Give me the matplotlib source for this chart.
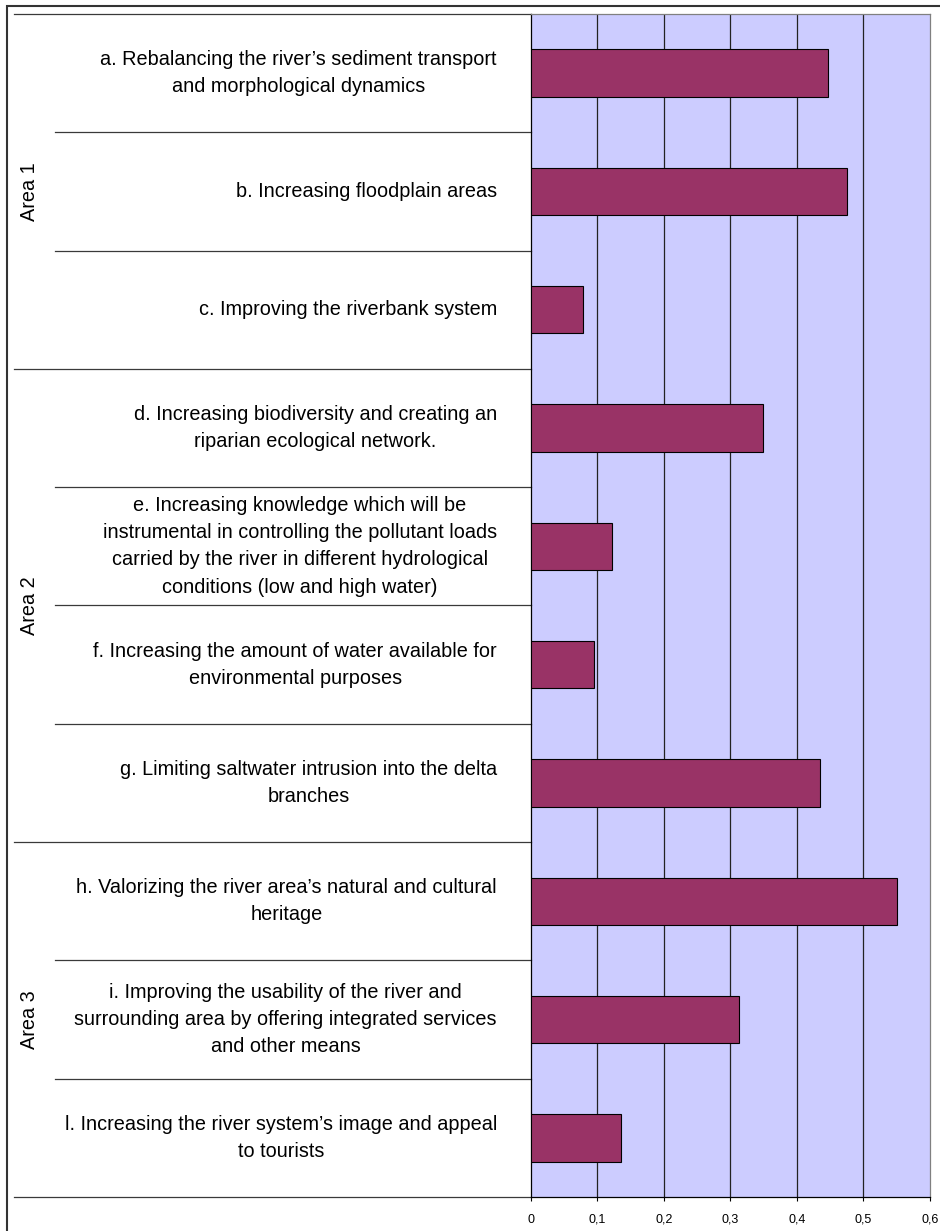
import numpy as np
import matplotlib
matplotlib.use('Agg')
import matplotlib.pyplot as plt
import matplotlib.transforms as mtransforms
from matplotlib.patches import Rectangle

plt.rcParams['font.family'] = ['Liberation Sans', 'DejaVu Sans']

# Chart data
labels = [
    "a. Rebalancing the river\u2019s sediment transport\nand morphological dynamics",
    "b. Increasing floodplain areas",
    "c. Improving the riverbank system",
    "d. Increasing biodiversity and creating an\nriparian ecological network.",
    "e. Increasing knowledge which will be\ninstrumental in controlling the pollutant loads\n"
    "carried by the river in different hydrological\nconditions (low and high water)",
    "f. Increasing the amount of water available for\nenvironmental purposes",
    "g. Limiting saltwater intrusion into the delta\nbranches",
    "h. Valorizing the river area\u2019s natural and cultural\nheritage",
    "i. Improving the usability of the river and\nsurrounding area by offering integrated services\nand other means",
    "l. Increasing the river system\u2019s image and appeal\nto tourists",
]
values = [0.446, 0.475, 0.078, 0.349, 0.122, 0.095, 0.434, 0.551, 0.313, 0.136]
areas = ["Area 1", "Area 2", "Area 3"]
area_sizes = [3, 4, 3]
xticks = [0, 0.1, 0.2, 0.3, 0.4, 0.5, 0.6]
xtick_labels = ["0", "0,1", "0,2", "0,3", "0,4", "0,5", "0,6"]

W, H = 940, 1231
fig = plt.figure(figsize=[W / 100, H / 100], dpi=100)
ax = fig.add_axes([530.7 / W, 1 - 1197 / H, (930 - 530.7) / W, (1197 - 14) / H])

pos = np.arange(len(values))
ax.set_facecolor('#CCCCFF')
ax.barh(pos, values, height=0.4, color='#993366', edgecolor='black', linewidth=0.8, zorder=3)
ax.set_xlim(0, 0.6)
ax.set_ylim(len(values) - 0.5, -0.5)

# Vertical gridlines
for x in xticks[1:-1]:
    ax.axvline(x, color='#222222', linewidth=0.9, zorder=1)

ax.set_xticks(xticks)
ax.set_xticklabels(xtick_labels, fontsize=9)
ax.tick_params(axis='x', direction='out', length=3, pad=9, width=0.8)
ax.set_yticks([])
for side in ['left', 'bottom']:
    ax.spines[side].set_color('black')
    ax.spines[side].set_linewidth(0.9)
for side in ['top', 'right']:
    ax.spines[side].set_color('#808080')
    ax.spines[side].set_linewidth(0.9)

# x in figure pixels, y in data units
trans = mtransforms.blended_transform_factory(fig.transFigure, ax.transData)

# Category labels
for p, lab in zip(pos, labels):
    ax.text(497 / W, p, lab, transform=trans, ha='right', va='center',
            multialignment='center', fontsize=14.3, linespacing=1.55)

# Separator lines: area boundaries run full width, item boundaries are shorter
bounds = np.cumsum([0] + area_sizes) - 0.5
for b in np.arange(len(values) + 1) - 0.5:
    x0 = 14 if b in bounds else 55
    ax.plot([x0 / W, 531 / W], [b, b], transform=trans, color='#3a3a3a',
            linewidth=0.9, clip_on=False)

# Area labels
for i, name in enumerate(areas):
    mid = (bounds[i] + bounds[i + 1]) / 2
    ax.text(30 / W, mid, name, transform=trans, rotation=90, ha='center',
            va='center', fontsize=14.3)

# Outer frame
fig.add_artist(Rectangle((7 / W, -0.05), 1.2, 1.05 - 6 / H, transform=fig.transFigure,
                         fill=False, edgecolor='#333333', linewidth=1.5))

fig.savefig('out.png', dpi=100)
